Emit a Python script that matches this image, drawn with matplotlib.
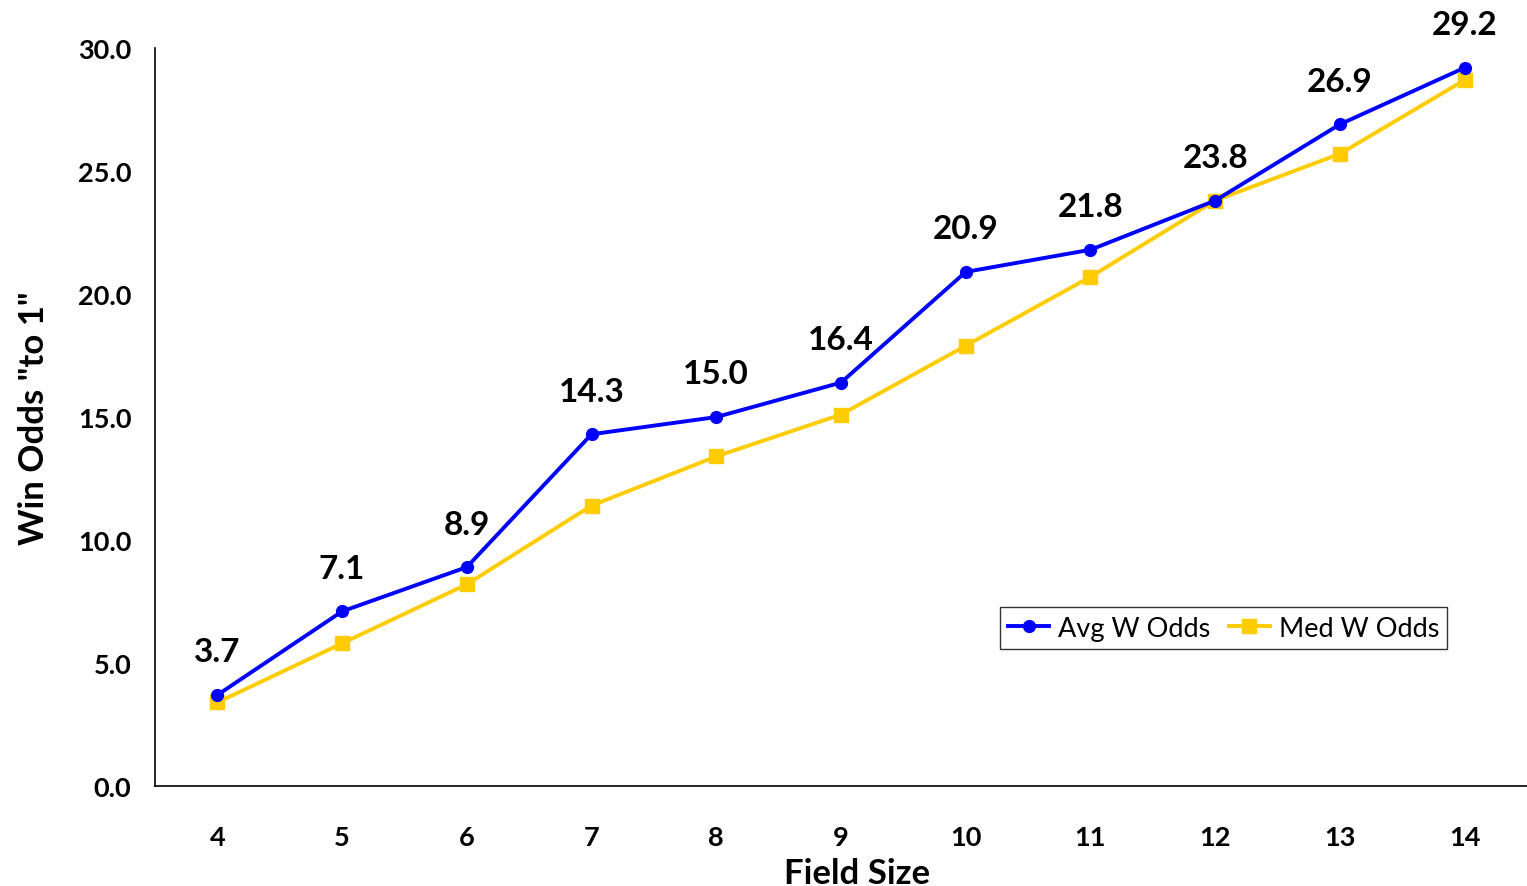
import matplotlib
matplotlib.use("Agg")
import matplotlib.pyplot as plt

field_sizes = ["4", "5", "6", "7", "8", "9", "10", "11", "12", "13", "14"]
avg_odds = [3.7, 7.1, 8.9, 14.3, 15.0, 16.4, 20.9, 21.8, 23.8, 26.9, 29.2]
med_odds = [3.4, 5.8, 8.2, 11.4, 13.4, 15.1, 17.9, 20.7, 23.8, 25.7, 28.7]
y_ticks = [0, 5, 10, 15, 20, 25, 30]

plt.rcParams["font.family"] = ["Lato", "DejaVu Sans"]

fig = plt.figure(figsize=(15.27, 8.87), dpi=100)
ax = fig.add_axes([0.1015, 0.1127, 0.8985, 0.832])

x = list(range(len(field_sizes)))
ax.plot(x, avg_odds, color="#0000FF", lw=2.8, marker="o", ms=8.5,
        label="Avg W Odds", zorder=3)
ax.plot(x, med_odds, color="#FFCC00", lw=2.8, marker="s", ms=9.5,
        label="Med W Odds", zorder=2)

for xi, v in zip(x, avg_odds):
    ax.annotate(f"{v:.1f}", (xi, v), xytext=(0, 31), textcoords="offset points",
                ha="center", va="center", fontsize=24, fontweight="bold")

ax.set_xlim(-0.5, len(field_sizes) - 0.5)
ax.set_ylim(0, 30)
ax.set_xticks(x)
ax.set_xticklabels(field_sizes)
ax.set_yticks(y_ticks)
ax.set_yticklabels([f"{t:.1f}" for t in y_ticks])
ax.tick_params(axis="both", length=0, labelsize=19.5)
ax.tick_params(axis="x", pad=28)
ax.tick_params(axis="y", pad=17)
for lab in ax.get_xticklabels() + ax.get_yticklabels():
    lab.set_fontweight("bold")

for side in ("top", "right"):
    ax.spines[side].set_visible(False)
for side in ("left", "bottom"):
    ax.spines[side].set_linewidth(1.2)
    ax.spines[side].set_color("black")

ax.set_xlabel("Field Size", fontsize=25, fontweight="bold")
ax.xaxis.set_label_coords(0.5117, -0.096)
ax.set_ylabel('Win Odds "to 1"', fontsize=25, fontweight="bold", labelpad=20)

leg = ax.legend(loc="upper left", bbox_to_anchor=(0.616, 0.242), ncol=2,
                frameon=True, fancybox=False, fontsize=19.5, handlelength=1.5,
                columnspacing=0.7, handletextpad=0.33, borderpad=0.3,
                borderaxespad=0)
leg.get_frame().set_edgecolor("black")
leg.get_frame().set_linewidth(1.0)

fig.savefig("out.png", dpi=100)
